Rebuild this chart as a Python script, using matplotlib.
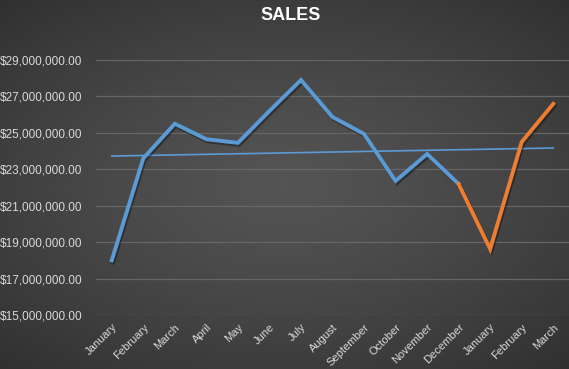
import numpy as np
import matplotlib.pyplot as plt
from matplotlib import patheffects as pe
from matplotlib.ticker import FuncFormatter

months = ["January", "February", "March", "April", "May", "June", "July",
          "August", "September", "October", "November", "December",
          "January", "February", "March"]
sales = [18.0, 23.6, 25.5, 24.65, 24.45, 26.2, 27.9, 25.87, 24.94,
         22.36, 23.84, 22.19, 18.62, 24.5, 26.59]  # millions
sales = np.array(sales) * 1e6
yticks = np.arange(15e6, 29e6 + 1, 2e6)

plt.rcParams['font.family'] = ['Liberation Sans', 'DejaVu Sans']

fig = plt.figure(figsize=(5.69, 3.69), dpi=100)

# radial gradient background
bg = fig.add_axes([0, 0, 1, 1], zorder=-10)
gx, gy = np.meshgrid(np.linspace(-1, 1, 569), np.linspace(-1, 1, 369))
r = np.sqrt((gx / 1.1) ** 2 + (gy / 1.0) ** 2)
shade = 0.33 - 0.14 * np.clip(r / 1.35, 0, 1) ** 1.3
bg.imshow(np.dstack([shade] * 3), aspect='auto', extent=[0, 1, 0, 1])
bg.axis('off')

ax = fig.add_axes([96 / 569, 1 - 315 / 369, 1 - 96 / 569, (315 - 60) / 369])
ax.patch.set_alpha(0)
x = np.arange(len(months))

shadow = [pe.SimpleLineShadow(offset=(1, -1.5), alpha=0.35, shadow_color='black'), pe.Normal()]
ax.plot(x[:12], sales[:12], color='#5B9BD5', lw=2.8, solid_joinstyle='miter',
        path_effects=shadow, zorder=3)
ax.plot(x[11:], sales[11:], color='#ED7D31', lw=2.8, solid_joinstyle='miter',
        path_effects=shadow, zorder=3)

# linear trend over all points
k, b = np.polyfit(x, sales, 1)
ax.plot(x, k * x + b, color='#5B9BD5', lw=1.2, zorder=2)

ax.set_xlim(-0.5, len(months) - 0.5)
ax.set_ylim(15e6, 29e6)
ax.set_yticks(yticks)
ax.yaxis.set_major_formatter(FuncFormatter(lambda v, p: "${:,.2f}".format(v)))
ax.set_xticks(x)
ax.set_xticklabels(months, rotation=45, ha='right', rotation_mode='anchor')
ax.grid(axis='y', color='#666666', lw=0.9)
ax.set_axisbelow(True)
for s in ax.spines.values():
    s.set_visible(False)
ax.tick_params(axis='both', length=0, colors='#d9d9d9')
ax.tick_params(axis='y', pad=10, labelsize=8.5)
ax.tick_params(axis='x', pad=5, labelsize=8)

fig.text(0.51, 0.958, "SALES", color='white', fontsize=13, fontweight='bold',
         ha='center', va='center')

fig.savefig("out.png", dpi=100)
